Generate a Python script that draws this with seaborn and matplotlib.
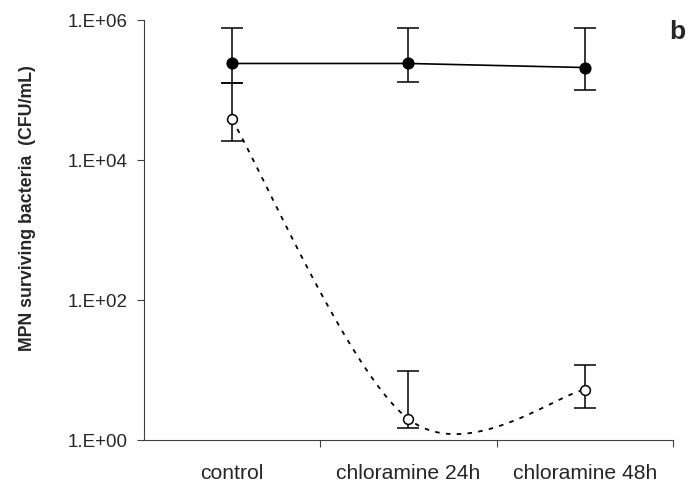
import numpy as np
import pandas as pd

import matplotlib
matplotlib.use("Agg")
import matplotlib.pyplot as plt
import seaborn as sns

# =====================================================
# DATA
# =====================================================
categories = ["control", "chloramine 24h", "chloramine 48h"]

filled_mean = [2.4e5, 2.4e5, 2.1e5]
filled_upper = [7.7e5, 7.7e5, 7.7e5]
filled_lower = [1.26e5, 1.3e5, 1.0e5]

open_mean = [3.8e4, 2.0, 5.2]
open_upper = [1.26e5, 9.7, 11.8]
open_lower = [1.9e4, 1.5, 2.9]

ytick_vals = [1e0, 1e2, 1e4, 1e6]
ytick_labels = ["1.E+00", "1.E+02", "1.E+04", "1.E+06"]

# =====================================================
# STYLE
# =====================================================
sns.set_style("ticks")
plt.rcParams.update({
    "font.family": ["Liberation Sans", "DejaVu Sans"],
    "font.size": 13.3,
    "axes.linewidth": 0.8,
    "axes.edgecolor": "#404040",
})

df = pd.DataFrame({
    "pos": np.arange(len(categories)),
    "category": categories,
    "filled": filled_mean,
    "open": open_mean,
})


# smoothed line like the spreadsheet "smoothed line" option (Catmull-Rom in log space)
def smooth_path(x, y, n=60):
    x = np.asarray(x, float)
    ly = np.log10(np.asarray(y, float))
    pts = np.column_stack([x, ly])
    out = []
    for i in range(len(pts) - 1):
        p0 = pts[max(i - 1, 0)]
        p1 = pts[i]
        p2 = pts[i + 1]
        p3 = pts[min(i + 2, len(pts) - 1)]
        c1 = p1 + (p2 - p0) / 6.0
        c2 = p2 - (p3 - p1) / 6.0
        t = np.linspace(0, 1, n)[:, None]
        seg = ((1 - t) ** 3) * p1 + 3 * ((1 - t) ** 2) * t * c1 \
            + 3 * (1 - t) * t ** 2 * c2 + t ** 3 * p2
        out.append(seg)
    out = np.vstack(out)
    return out[:, 0], 10 ** out[:, 1]


# =====================================================
# FIGURE
# =====================================================
fig = plt.figure(figsize=(6.88, 4.90), dpi=100)
ax = fig.add_axes([0.209, 0.102, 0.769, 0.857])

# error bars
ax.errorbar(
    df["pos"], df["filled"],
    yerr=[df["filled"] - np.array(filled_lower), np.array(filled_upper) - df["filled"]],
    fmt="none", ecolor="black", elinewidth=1.1, capsize=8, capthick=1.1, zorder=2
)
ax.errorbar(
    df["pos"], df["open"],
    yerr=[df["open"] - np.array(open_lower), np.array(open_upper) - df["open"]],
    fmt="none", ecolor="black", elinewidth=1.1, capsize=8, capthick=1.1, zorder=2
)

# solid series
sns.lineplot(
    data=df, x="pos", y="filled", color="black", linewidth=1.2,
    marker="o", markersize=8, markerfacecolor="black",
    markeredgecolor="black", ax=ax, zorder=3
)

# dashed smoothed series
sx, sy = smooth_path(df["pos"], df["open"])
ax.plot(sx, sy, color="black", linewidth=1.3, linestyle=(0, (2.5, 3.5)), zorder=3)
sns.scatterplot(
    data=df, x="pos", y="open", s=50, color="white",
    edgecolor="black", linewidth=1.1, ax=ax, zorder=4
)

# =====================================================
# AXES
# =====================================================
ax.set_yscale("log")
ax.set_ylim(1, 1e6)
ax.set_yticks(ytick_vals)
ax.set_yticklabels(ytick_labels)
ax.yaxis.set_minor_locator(matplotlib.ticker.NullLocator())
ax.tick_params(axis="y", which="major", direction="out", length=5, width=0.8,
               color="#404040", pad=7, labelsize=13.5)

ax.set_xlim(-0.5, 2.5)
ax.set_xticks(df["pos"])
ax.set_xticklabels(categories)
ax.set_xticks([0.5, 1.5, 2.5], minor=True)
ax.tick_params(axis="x", which="major", length=0, pad=17, labelsize=15.2)
ax.tick_params(axis="x", which="minor", direction="out", length=5, width=0.8,
               color="#404040")

ax.set_xlabel("")
ax.set_ylabel("MPN surviving bacteria  (CFU/mL)", fontweight="bold", fontsize=12.8)
ax.yaxis.set_label_coords(-0.203, 0.552)

sns.despine(ax=ax)

fig.text(0.985, 0.935, "b", fontsize=19, fontweight="bold", ha="center", va="center")

plt.savefig("out.png", dpi=100)
plt.close()
